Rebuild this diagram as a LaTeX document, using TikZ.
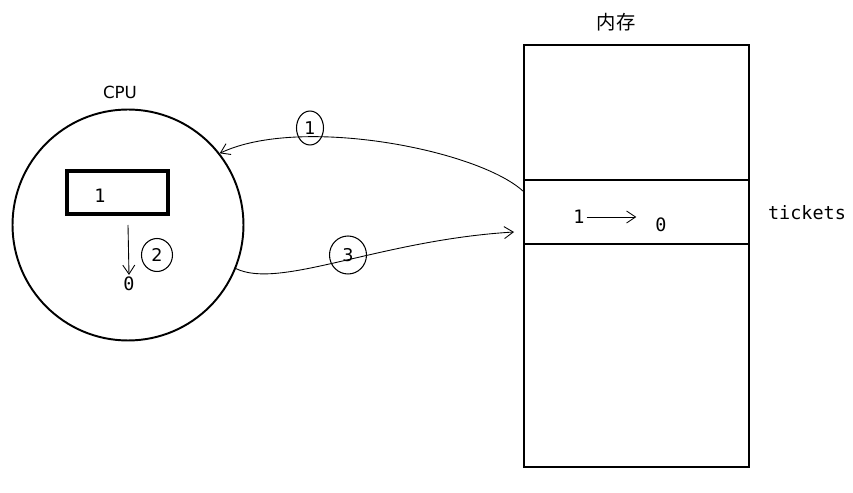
\documentclass[tikz,border=0pt]{standalone}
\usepackage{fontspec}
\setsansfont{DejaVu Sans}
\setmonofont{DejaVu Sans Mono}
\newfontfamily\cjk{Noto Sans CJK SC}
\usetikzlibrary{positioning,arrows.meta,calc}

\tikzset{
  wire/.style={line width=0.5pt,-{Straight Barb[length=1.8mm,width=2.4mm]}},
  mono/.style={font=\ttfamily\fontsize{10.5}{12}\selectfont,inner sep=1pt},
  step mark/.style={draw,ellipse,line width=0.6pt,inner sep=0pt,font=\sffamily\fontsize{10}{11}\selectfont},
}
\usetikzlibrary{shapes.geometric}

\begin{document}
\begin{tikzpicture}[x=0.02cm,y=-0.02cm]
\useasboundingbox (0,0) rectangle (853,493);
% cpu (left)
\node[draw,circle,line width=1.1pt,minimum size=4.62cm] (cpu) at (128,225) {};
\node[font=\sffamily\fontsize{9.5}{11}\selectfont] (cpulabel) at (120,92) {CPU};
\node[draw,line width=2pt,minimum width=2.02cm,minimum height=0.86cm] (reg) at (117.5,192.5) {};
\node[mono] (one2) at (100,196) {1};
\node[mono] (zero2) at (129,284) {0};
\draw[wire] (cpu.center) -- (zero2.north);
\node[step mark,minimum width=0.62cm,minimum height=0.66cm] (s2) at (157,255) {2};
% memory (right)
\node[draw,line width=1.1pt,minimum width=4.5cm,minimum height=8.44cm] (mem) at (636.5,256) {};
\draw[line width=1.1pt] (mem.west |- 0,180) -- (mem.east |- 0,180);
\draw[line width=1.1pt] (mem.west |- 0,244) -- (mem.east |- 0,244);
\node[font=\cjk\fontsize{11}{13}\selectfont] (memlabel) at (616,22) {内存};
\node[mono] (tickets) at (807,213) {tickets};
\node[mono] (one1) at (579,217) {1};
\node[mono] (zero1) at (661,225) {0};
\draw[wire,shorten >=0.34cm] (one1.east) -- (one1.east -| zero1.west);
% transfers
\coordinate (m1) at (524,192);
\coordinate (m2) at (514,232);
\draw[wire] (m1) .. controls (480,150) and (300,115) .. (cpu.38);
\draw[wire] (cpu.-22) .. controls (280,290) and (380,240) .. (m2);
\node[step mark,minimum width=0.54cm,minimum height=0.68cm] (s1) at (310,128) {1};
\node[step mark,minimum width=0.74cm,minimum height=0.76cm] (s3) at (348,255) {3};
\end{tikzpicture}
\end{document}
